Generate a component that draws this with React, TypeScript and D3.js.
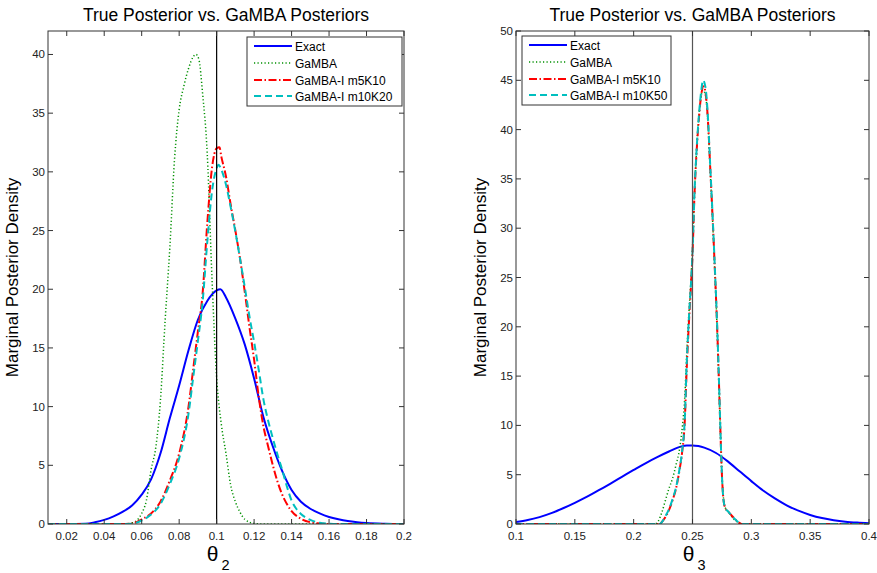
import React from 'react';
import * as d3 from 'd3';

type Pt = [number, number];

// ---- left panel: theta_2 ----
const exact2: Pt[] = [
  [0.01, 0], [0.02, 0], [0.03, 0.03], [0.035, 0.15], [0.04, 0.35], [0.045, 0.65], [0.05, 1.05],
  [0.055, 1.6], [0.06, 2.5], [0.065, 3.8], [0.07, 6.0], [0.075, 9.0], [0.08, 11.8], [0.085, 14.8],
  [0.09, 17.4], [0.095, 19.0], [0.1, 19.9], [0.102, 20.0], [0.105, 19.3], [0.11, 17.5],
  [0.115, 15.3], [0.12, 12.4], [0.125, 9.1], [0.13, 6.6], [0.135, 4.5], [0.14, 2.9], [0.145, 1.9],
  [0.15, 1.3], [0.155, 0.9], [0.16, 0.6], [0.165, 0.4], [0.17, 0.25], [0.175, 0.15], [0.18, 0.08],
  [0.19, 0.02], [0.2, 0],
];
const gamba2: Pt[] = [
  [0.01, 0], [0.05, 0], [0.055, 0.1], [0.058, 0.4], [0.06, 0.9], [0.0625, 2.0], [0.065, 4.6],
  [0.0675, 6.5], [0.07, 10.5], [0.0725, 17.3], [0.075, 23.5], [0.0775, 31], [0.08, 35.3],
  [0.0825, 37.3], [0.085, 38.8], [0.0875, 39.8], [0.089, 40], [0.0905, 39.6], [0.0925, 36.7],
  [0.095, 31.5], [0.0975, 21], [0.1, 12.5], [0.1025, 8.5], [0.105, 6.0], [0.1075, 3.3], [0.11, 1.9],
  [0.1125, 1.0], [0.115, 0.4], [0.12, 0.05], [0.125, 0], [0.2, 0],
];
const m5k10_2: Pt[] = [
  [0.01, 0], [0.05, 0], [0.055, 0.05], [0.06, 0.4], [0.065, 0.9], [0.07, 1.9], [0.075, 3.7],
  [0.08, 6.0], [0.085, 10.0], [0.0875, 13.2], [0.09, 16.4], [0.0925, 19.6], [0.095, 25.6],
  [0.0975, 30.3], [0.1, 32.0], [0.1015, 32.1], [0.1025, 31.3], [0.105, 29.6], [0.1075, 27.2],
  [0.11, 25.0], [0.1125, 22.6], [0.115, 19.8], [0.1175, 16.8], [0.12, 14.0], [0.1225, 10.8],
  [0.125, 8.3], [0.1275, 6.6], [0.13, 5.0], [0.1325, 3.6], [0.135, 2.5], [0.1375, 1.7], [0.14, 1.1],
  [0.145, 0.45], [0.15, 0.15], [0.155, 0.05], [0.16, 0], [0.2, 0],
];
const m10k20_2: Pt[] = [
  [0.01, 0], [0.05, 0], [0.055, 0.03], [0.06, 0.3], [0.065, 0.8], [0.07, 1.7], [0.075, 3.4],
  [0.08, 5.6], [0.085, 9.4], [0.0875, 12.5], [0.09, 15.6], [0.0925, 18.9], [0.095, 24.0],
  [0.0975, 28.3], [0.1, 30.3], [0.101, 30.6], [0.1025, 30.2], [0.105, 28.9], [0.1075, 27.0],
  [0.11, 24.9], [0.1125, 22.6], [0.115, 20.2], [0.1175, 17.7], [0.12, 15.5], [0.1225, 13.1],
  [0.125, 10.6], [0.1275, 8.8], [0.13, 7.3], [0.1325, 5.9], [0.135, 4.6], [0.1375, 3.2], [0.14, 2.0],
  [0.1425, 1.3], [0.145, 0.85], [0.15, 0.35], [0.155, 0.1], [0.16, 0.02], [0.165, 0], [0.2, 0],
];

// ---- right panel: theta_3 ----
const exact3: Pt[] = [
  [0.1, 0.2], [0.11, 0.4], [0.12, 0.7], [0.13, 1.1], [0.14, 1.6], [0.15, 2.15], [0.16, 2.75],
  [0.17, 3.4], [0.18, 4.08], [0.19, 4.78], [0.2, 5.48], [0.21, 6.16], [0.22, 6.78], [0.23, 7.35],
  [0.24, 7.85], [0.245, 7.97], [0.25, 7.97], [0.255, 7.9], [0.26, 7.75], [0.27, 7.2], [0.28, 6.35],
  [0.29, 5.35], [0.3, 4.35], [0.31, 3.4], [0.32, 2.6], [0.33, 1.9], [0.34, 1.35], [0.35, 0.92],
  [0.36, 0.6], [0.37, 0.38], [0.38, 0.23], [0.39, 0.14], [0.4, 0.08],
];
const gamba3: Pt[] = [
  [0.1, 0], [0.218, 0], [0.221, 0.3], [0.224, 1.2], [0.227, 2.4], [0.23, 3.6], [0.233, 4.6],
  [0.236, 6.0], [0.239, 7.6], [0.2415, 10], [0.2435, 13], [0.245, 17], [0.247, 21.5], [0.249, 25.5],
  [0.25, 28], [0.2515, 33], [0.2535, 38], [0.2555, 41.5], [0.2575, 43.5], [0.259, 44], [0.261, 43.5],
  [0.263, 41], [0.265, 36], [0.267, 31], [0.269, 25.5], [0.271, 19.5], [0.2725, 14], [0.274, 8.3],
  [0.275, 5], [0.2765, 2.4], [0.278, 1.6], [0.28, 1.3], [0.283, 0.8], [0.286, 0.4], [0.29, 0.1],
  [0.293, 0], [0.4, 0],
];
const m5k10_3: Pt[] = [
  [0.1, 0], [0.222, 0], [0.224, 0.2], [0.227, 0.7], [0.23, 1.4], [0.233, 2.4], [0.236, 3.6],
  [0.239, 5.5], [0.241, 7.1], [0.2435, 10.6], [0.245, 15.5], [0.247, 20.5], [0.249, 24.8],
  [0.25, 27.3], [0.2515, 32.8], [0.2535, 37.8], [0.2555, 41.2], [0.2575, 43.6], [0.2595, 44.4],
  [0.261, 43.8], [0.263, 41.2], [0.265, 36.3], [0.267, 31.3], [0.269, 25.8], [0.271, 19.8],
  [0.2725, 14.3], [0.274, 8.4], [0.275, 5], [0.2765, 2.3], [0.278, 1.6], [0.28, 1.3], [0.283, 0.9],
  [0.286, 0.5], [0.29, 0.1], [0.293, 0], [0.4, 0],
];
const m10k50_3: Pt[] = [
  [0.1, 0], [0.222, 0], [0.224, 0.2], [0.227, 0.8], [0.23, 1.5], [0.233, 2.5], [0.236, 3.7],
  [0.239, 5.6], [0.241, 7.2], [0.2435, 10.8], [0.245, 16], [0.247, 21], [0.249, 25], [0.25, 27.5],
  [0.2515, 33], [0.2535, 38], [0.2555, 41.5], [0.2575, 44], [0.259, 45], [0.261, 44.3], [0.263, 41.5],
  [0.265, 36.5], [0.267, 31.5], [0.269, 26], [0.271, 20], [0.2725, 14.5], [0.274, 8.5], [0.275, 5],
  [0.2765, 2.3], [0.278, 1.6], [0.28, 1.3], [0.283, 0.9], [0.286, 0.5], [0.29, 0.1], [0.293, 0],
  [0.4, 0],
];

const legend2 = ['Exact', 'GaMBA', 'GaMBA-I m5K10', 'GaMBA-I m10K20'];
const legend3 = ['Exact', 'GaMBA', 'GaMBA-I m5K10', 'GaMBA-I m10K50'];
const xTicks2 = [0.02, 0.04, 0.06, 0.08, 0.1, 0.12, 0.14, 0.16, 0.18, 0.2];
const yTicks2 = [0, 5, 10, 15, 20, 25, 30, 35, 40];
const xTicks3 = [0.1, 0.15, 0.2, 0.25, 0.3, 0.35, 0.4];
const yTicks3 = [0, 5, 10, 15, 20, 25, 30, 35, 40, 45, 50];

const lineStyles = [
  { color: '#0000ff', dash: 'none', width: 2 },
  { color: '#009000', dash: '1.2,2.3', width: 1.5 },
  { color: '#ff0000', dash: '8,2.5,1.5,2.5', width: 2 },
  { color: '#00bfbf', dash: '7,4', width: 2 },
];

const FONT = 'Arial, "Liberation Sans", Helvetica, sans-serif';

type PanelProps = {
  id: string;
  left: number; right: number; top: number; bottom: number;
  xDomain: [number, number]; yDomain: [number, number];
  xTicks: number[]; yTicks: number[];
  series: Pt[][];
  vline: number; vlineColor: string;
  names: string[];
  legendBox: { x: number; y: number; w: number; h: number };
  sub: string;
  ylabelX: number;
};

const Panel = (p: PanelProps) => {
  const x = d3.scaleLinear().domain(p.xDomain).range([p.left, p.right]);
  const y = d3.scaleLinear().domain(p.yDomain).range([p.bottom, p.top]);
  const line = d3.line<Pt>().x((d) => x(d[0])).y((d) => y(d[1])).curve(d3.curveMonotoneX);
  const tl = 5;
  const axisColor = '#333';
  const cx = (p.left + p.right) / 2;
  const cy = (p.top + p.bottom) / 2;
  const lb = p.legendBox;
  const rowY = [9, 26, 43, 59];

  return (
    <g>
      <defs>
        <clipPath id={p.id}>
          <rect x={p.left} y={p.top} width={p.right - p.left} height={p.bottom - p.top} />
        </clipPath>
      </defs>
      <rect x={p.left} y={p.top} width={p.right - p.left} height={p.bottom - p.top} fill="#fff" />

      <g clipPath={`url(#${p.id})`}>
        {p.series.map((s, i) => (
          <path key={i} d={line(s) || ''} fill="none" stroke={lineStyles[i].color}
            strokeWidth={lineStyles[i].width}
            strokeDasharray={lineStyles[i].dash === 'none' ? undefined : lineStyles[i].dash} />
        ))}
        <line x1={x(p.vline)} x2={x(p.vline)} y1={p.top} y2={p.bottom} stroke={p.vlineColor} strokeWidth={1.2} />
      </g>

      {/* box and ticks */}
      <rect x={p.left} y={p.top} width={p.right - p.left} height={p.bottom - p.top} fill="none" stroke={axisColor} strokeWidth={1} />
      {p.xTicks.map((t) => (
        <g key={'x' + t}>
          <line x1={x(t)} x2={x(t)} y1={p.bottom} y2={p.bottom - tl} stroke={axisColor} />
          <line x1={x(t)} x2={x(t)} y1={p.top} y2={p.top + tl} stroke={axisColor} />
          <text x={x(t)} y={539.5} fontSize={11.5} textAnchor="middle" fill="#222" fontFamily={FONT}>{String(t)}</text>
        </g>
      ))}
      {p.yTicks.map((t) => (
        <g key={'y' + t}>
          <line x1={p.left} x2={p.left + tl} y1={y(t)} y2={y(t)} stroke={axisColor} />
          <line x1={p.right} x2={p.right - tl} y1={y(t)} y2={y(t)} stroke={axisColor} />
          <text x={p.left - 3} y={y(t) + 4} fontSize={11.5} textAnchor="end" fill="#222" fontFamily={FONT}>{String(t)}</text>
        </g>
      ))}

      {/* title and labels */}
      <text x={cx} y={21} fontSize={17.5} textAnchor="middle" fill="#000" fontFamily={FONT}>
        True Posterior vs. GaMBA Posteriors
      </text>
      <text transform={`translate(${p.ylabelX},${cy}) rotate(-90)`} fontSize={17} textAnchor="middle" fill="#000" fontFamily={FONT}>
        Marginal Posterior Density
      </text>
      <text x={x(p.vline) - 4} y={560.5} fontSize={21} textAnchor="middle" fill="#000" fontFamily={FONT}>
        θ
      </text>
      <text x={x(p.vline) + 9} y={570} fontSize={14.5} textAnchor="middle" fill="#000" fontFamily={FONT}>
        {p.sub}
      </text>

      {/* legend */}
      <rect x={lb.x} y={lb.y} width={lb.w} height={lb.h} fill="#fff" stroke={axisColor} strokeWidth={1} />
      {p.names.map((n, i) => (
        <g key={n}>
          <line x1={lb.x + 7} x2={lb.x + 45} y1={lb.y + rowY[i]} y2={lb.y + rowY[i]}
            stroke={lineStyles[i].color} strokeWidth={lineStyles[i].width}
            strokeDasharray={lineStyles[i].dash === 'none' ? undefined : lineStyles[i].dash} />
          <text x={lb.x + 48} y={lb.y + rowY[i] + 4.5} fontSize={12} fill="#000" fontFamily={FONT}>{n}</text>
        </g>
      ))}
    </g>
  );
};

export default function App() {
  return (
    <svg width={877} height={573} style={{ position: 'absolute', left: 0, top: 0, background: '#fff' }}>
      <rect x={0} y={0} width={877} height={573} fill="#fff" />
      <Panel id="clipL" left={48} right={404} top={31} bottom={524}
        xDomain={[0.01, 0.2]} yDomain={[0, 42]} xTicks={xTicks2} yTicks={yTicks2}
        series={[exact2, gamba2, m5k10_2, m10k20_2]} vline={0.1} vlineColor="#000"
        names={legend2} legendBox={{ x: 247, y: 37, w: 155, h: 69 }} sub="2" ylabelX={18} />
      <Panel id="clipR" left={516} right={869} top={31} bottom={524}
        xDomain={[0.1, 0.4]} yDomain={[0, 50]} xTicks={xTicks3} yTicks={yTicks3}
        series={[exact3, gamba3, m5k10_3, m10k50_3]} vline={0.25} vlineColor="#555"
        names={legend3} legendBox={{ x: 522, y: 36, w: 149, h: 69 }} sub="3" ylabelX={486} />
    </svg>
  );
}
